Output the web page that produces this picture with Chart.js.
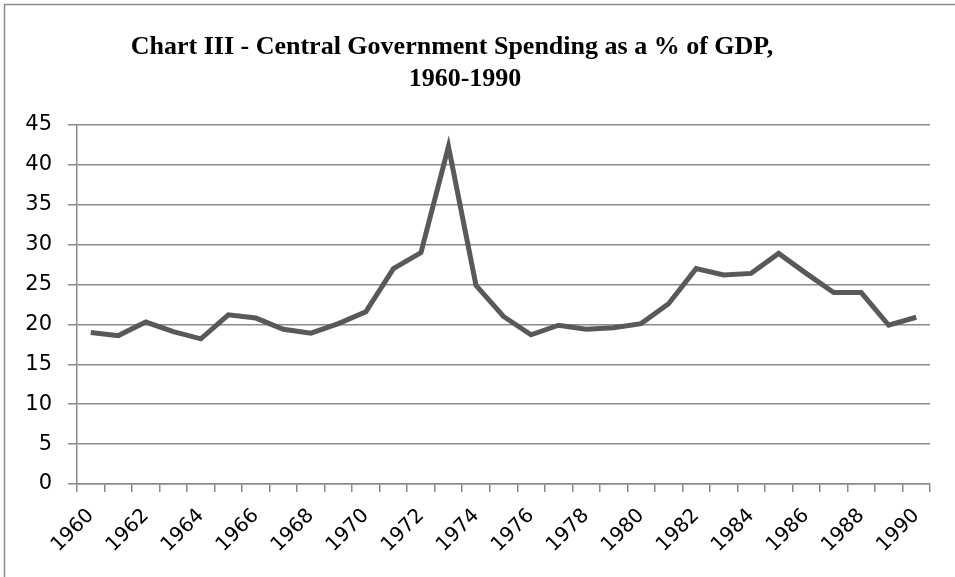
<!DOCTYPE html>
<html>
<head>
<meta charset="utf-8">
<script src="https://cdn.jsdelivr.net/npm/chart.js@4.4.1/dist/chart.umd.min.js"></script>
<style>
  html, body { margin: 0; padding: 0; background: #ffffff; }
  #wrap { width: 955px; height: 577px; position: relative; }
</style>
</head>
<body>
<div id="wrap"><canvas id="spendingChart"></canvas></div>
<script>
// Chart III data - central government spending as % of GDP
const years = ['1960', '1961', '1962', '1963', '1964', '1965', '1966', '1967', '1968', '1969',
               '1970', '1971', '1972', '1973', '1974', '1975', '1976', '1977', '1978', '1979',
               '1980', '1981', '1982', '1983', '1984', '1985', '1986', '1987', '1988', '1989', '1990'];
const spending = [19.0, 18.6, 20.3, 19.1, 18.2, 21.2, 20.8, 19.4, 18.9, 20.1,
                  21.6, 27.0, 29.0, 42.3, 24.9, 21.0, 18.7, 19.9, 19.4, 19.6,
                  20.1, 22.6, 27.0, 26.2, 26.4, 28.9, 26.4, 24.0, 24.0, 19.9, 20.9];
const yTicks = [0, 5, 10, 15, 20, 25, 30, 35, 40, 45];
// first line keeps a little trailing space, like the wrapped Excel title
const titleLines = ['Chart III - Central Government Spending as a % of GDP,    ', '1960-1990'];

const lineGrey = '#595959';
const gridGrey = '#8a8a8a';

// outer frame like the Excel chart border
const framePlugin = {
    id: 'frame',
    beforeDraw(chart) {
        const ctx = chart.ctx;
        ctx.save();
        ctx.fillStyle = '#ffffff';
        ctx.fillRect(0, 0, chart.width, chart.height);
        ctx.strokeStyle = '#8c8c8c';
        ctx.lineWidth = 1.5;
        ctx.strokeRect(4.5, 4.5, chart.width + 20, chart.height + 20);
        ctx.restore();
    }
};

new Chart(document.getElementById('spendingChart').getContext('2d'), {
    type: 'line',
    data: {
        labels: years,
        datasets: [{
            data: spending,
            borderColor: lineGrey,
            borderWidth: 5,
            pointRadius: 0,
            tension: 0,
            fill: false
        }]
    },
    options: {
        responsive: true,
        maintainAspectRatio: false,
        animation: false,
        layout: { padding: { left: 0, right: 25, top: 0, bottom: 0 } },
        plugins: {
            legend: { display: false },
            tooltip: { enabled: false },
            title: {
                display: true,
                text: titleLines,
                color: '#000000',
                font: { family: 'Liberation Serif', size: 26, weight: 'bold', lineHeight: '32px' },
                padding: { top: 31, bottom: 30 }
            }
        },
        scales: {
            x: {
                offset: true,
                grid: {
                    offset: true,
                    drawOnChartArea: false,
                    drawTicks: true,
                    tickLength: 8,
                    color: gridGrey,
                    lineWidth: 1.5
                },
                border: { display: true, color: gridGrey, width: 1.5 },
                ticks: {
                    autoSkip: false,
                    maxRotation: 45,
                    minRotation: 45,
                    padding: 12,
                    color: '#000000',
                    font: { family: 'DejaVu Sans', size: 20 },
                    callback: function(value, index) {
                        return index % 2 === 0 ? years[index] : '';
                    }
                },
                afterFit: function(scale) { scale.height = 93; }
            },
            y: {
                min: 0,
                max: 45,
                afterBuildTicks: function(scale) {
                    scale.ticks = yTicks.map(v => ({ value: v }));
                },
                grid: {
                    color: gridGrey,
                    lineWidth: 1.5,
                    tickLength: 9
                },
                border: { display: true, color: gridGrey, width: 1.5 },
                ticks: {
                    padding: 16,
                    color: '#000000',
                    font: { family: 'DejaVu Sans', size: 21 }
                },
                afterFit: function(scale) { scale.width = 77; }
            }
        }
    },
    plugins: [framePlugin]
});
</script>
</body>
</html>
